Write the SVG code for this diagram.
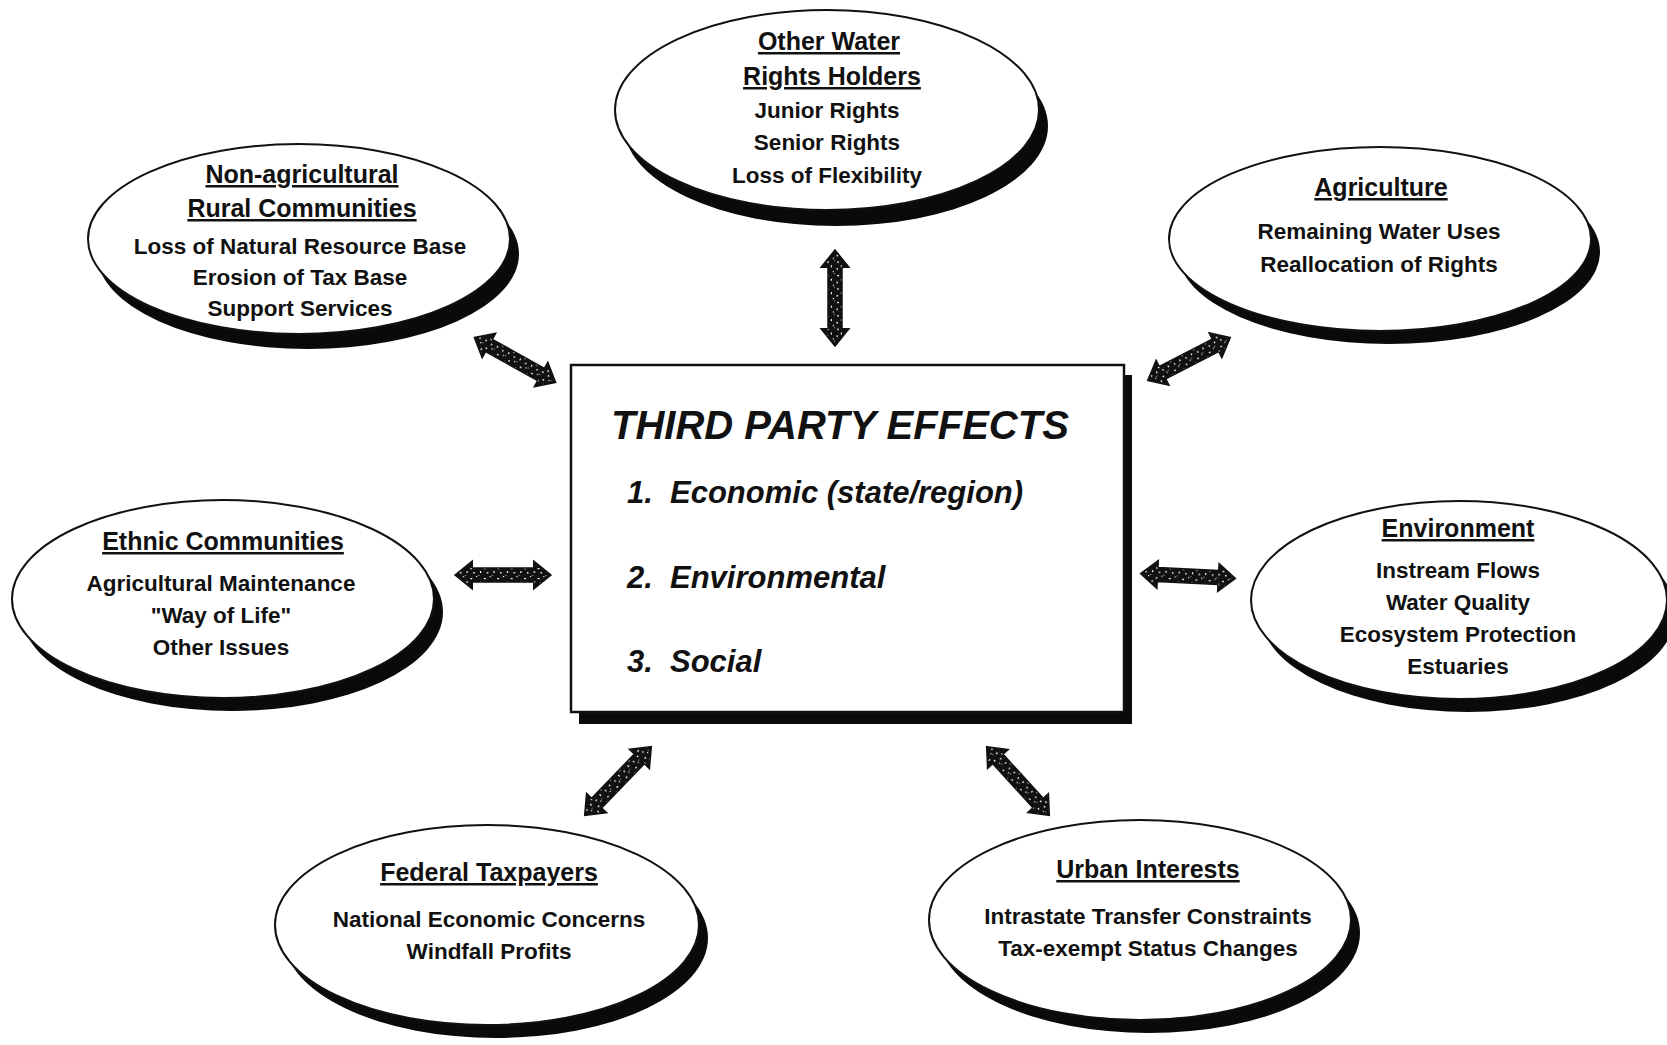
<svg xmlns="http://www.w3.org/2000/svg" xmlns:xlink="http://www.w3.org/1999/xlink" width="1667" height="1045" viewBox="0 0 1667 1045">
<style>
.bg{fill:#ffffff}
.shadow{fill:#0a0a0a}
.oval{fill:#ffffff;stroke:#111;stroke-width:2}
.box{fill:#ffffff;stroke:#111;stroke-width:2.5}
text{font-family:"Liberation Sans",Arial,sans-serif;fill:#111;text-anchor:middle}
.h{font-size:25px;font-weight:bold;text-decoration:underline}
.b{font-size:22.5px;font-weight:bold}
.t{font-size:40px;font-weight:bold;font-style:italic;text-anchor:start}
.i{font-size:31px;font-weight:bold;font-style:italic;text-anchor:start}
.arr{fill:url(#speckle);stroke:#111;stroke-width:1.5}
</style>
<defs>
<pattern id="speckle" patternUnits="userSpaceOnUse" width="14" height="10">
<rect width="14" height="10" fill="#111"/>
<rect x="2" y="-1" width="1.5" height="1.5" fill="#fff"/>
<rect x="8" y="3" width="2" height="1.2" fill="#fff"/>
<rect x="4" y="6" width="1.2" height="2" fill="#fff"/>
<rect x="11" y="7" width="1.5" height="1.5" fill="#fff"/>
<rect x="0" y="1" width="1.2" height="1.2" fill="#fff"/>
</pattern>
<path id="dbl" d="M-50,0 L-32,-14 L-32,-7 L32,-7 L32,-14 L50,0 L32,14 L32,7 L-32,7 L-32,14 Z"/>
</defs>
<rect class="bg" x="0" y="0" width="1667" height="1045"/>

<g id="connectors">
<use xlink:href="#dbl" class="arr" transform="translate(835,298) rotate(90) scale(0.96,1)"/>
<use xlink:href="#dbl" class="arr" transform="translate(515,360) rotate(29) scale(0.93,1)"/>
<use xlink:href="#dbl" class="arr" transform="translate(1189,359) rotate(-27.4) scale(0.93,1)"/>
<use xlink:href="#dbl" class="arr" transform="translate(503,575) scale(0.96,1)"/>
<use xlink:href="#dbl" class="arr" transform="translate(1188,576) rotate(3) scale(0.95,1)"/>
<use xlink:href="#dbl" class="arr" transform="translate(618,781) rotate(-46) scale(0.96,1)"/>
<use xlink:href="#dbl" class="arr" transform="translate(1018,781) rotate(47.6) scale(0.93,1)"/>
</g>

<g id="center">
<rect class="shadow" x="579" y="375" width="553" height="349"/>
<rect class="box" x="571" y="365" width="553" height="347"/>
<text class="t" x="611" y="439">THIRD PARTY EFFECTS</text>
<text class="i" x="627" y="503">1.</text><text class="i" x="670" y="503">Economic (state/region)</text>
<text class="i" x="627" y="588">2.</text><text class="i" x="670" y="588">Environmental</text>
<text class="i" x="627" y="672">3.</text><text class="i" x="670" y="672">Social</text>
</g>

<g id="water-rights">
<ellipse class="shadow" cx="836" cy="126" rx="212" ry="100"/>
<ellipse class="oval" cx="827" cy="110" rx="212" ry="100"/>
<text class="h" x="829" y="50">Other Water</text>
<text class="h" x="832" y="85">Rights Holders</text>
<text class="b" x="827" y="118">Junior Rights</text>
<text class="b" x="827" y="150">Senior Rights</text>
<text class="b" x="827" y="183">Loss of Flexibility</text>
</g>

<g id="rural">
<ellipse class="shadow" cx="308" cy="254" rx="211" ry="95"/>
<ellipse class="oval" cx="299" cy="239" rx="211" ry="95"/>
<text class="h" x="302" y="183">Non-agricultural</text>
<text class="h" x="302" y="217">Rural Communities</text>
<text class="b" x="300" y="254">Loss of Natural Resource Base</text>
<text class="b" x="300" y="285">Erosion of Tax Base</text>
<text class="b" x="300" y="316">Support Services</text>
</g>

<g id="agriculture">
<ellipse class="shadow" cx="1389" cy="252" rx="211" ry="92"/>
<ellipse class="oval" cx="1380" cy="239" rx="211" ry="92"/>
<text class="h" x="1381" y="196">Agriculture</text>
<text class="b" x="1379" y="239">Remaining Water Uses</text>
<text class="b" x="1379" y="272">Reallocation of Rights</text>
</g>

<g id="ethnic">
<ellipse class="shadow" cx="232" cy="612" rx="211" ry="99"/>
<ellipse class="oval" cx="223" cy="599" rx="211" ry="99"/>
<text class="h" x="223" y="550">Ethnic Communities</text>
<text class="b" x="221" y="591">Agricultural Maintenance</text>
<text class="b" x="221" y="623">"Way of Life"</text>
<text class="b" x="221" y="655">Other Issues</text>
</g>

<g id="environment">
<ellipse class="shadow" cx="1468" cy="613" rx="208" ry="99"/>
<ellipse class="oval" cx="1459" cy="600" rx="208" ry="99"/>
<text class="h" x="1458" y="537">Environment</text>
<text class="b" x="1458" y="578">Instream Flows</text>
<text class="b" x="1458" y="610">Water Quality</text>
<text class="b" x="1458" y="642">Ecosystem Protection</text>
<text class="b" x="1458" y="674">Estuaries</text>
</g>

<g id="federal">
<ellipse class="shadow" cx="496" cy="938" rx="212" ry="100"/>
<ellipse class="oval" cx="487" cy="925" rx="212" ry="100"/>
<text class="h" x="489" y="881">Federal Taxpayers</text>
<text class="b" x="489" y="927">National Economic Concerns</text>
<text class="b" x="489" y="959">Windfall Profits</text>
</g>

<g id="urban">
<ellipse class="shadow" cx="1149" cy="933" rx="211" ry="100"/>
<ellipse class="oval" cx="1140" cy="920" rx="211" ry="100"/>
<text class="h" x="1148" y="878">Urban Interests</text>
<text class="b" x="1148" y="924">Intrastate Transfer Constraints</text>
<text class="b" x="1148" y="956">Tax-exempt Status Changes</text>
</g>
</svg>
